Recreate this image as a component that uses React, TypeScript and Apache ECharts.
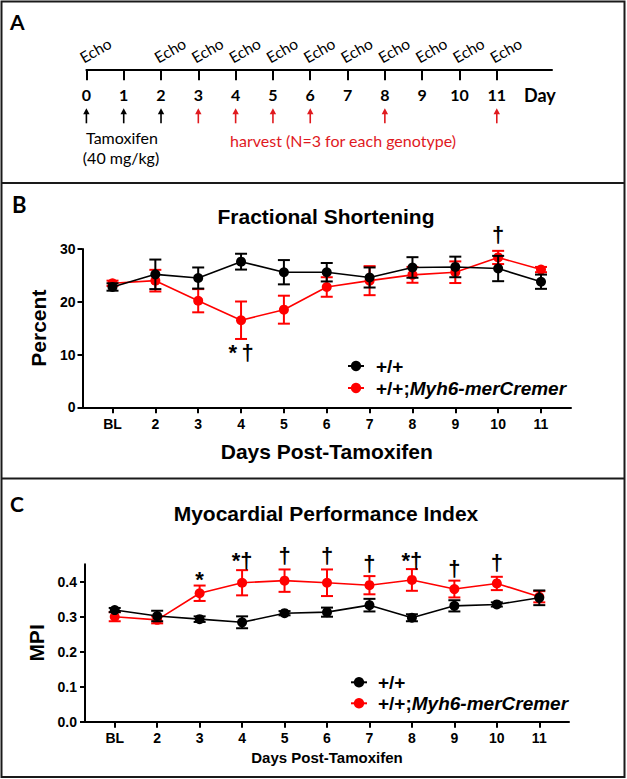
import React, { useEffect, useRef } from "react";
import * as echarts from "echarts";

// ---------- Panel A: timeline ----------
const timelineDays = [0, 1, 2, 3, 4, 5, 6, 7, 8, 9, 10, 11];
const echoDays = [0, 2, 3, 4, 5, 6, 7, 8, 9, 10, 11];
const tamoxifenDays = [0, 1, 2];
const harvestDays = [3, 4, 5, 6, 8, 11];

// ---------- Panels B & C ----------
const dayCategories = ["BL", "2", "3", "4", "5", "6", "7", "8", "9", "10", "11"];

// Fractional shortening (%), mean and SEM
const fsWT = [22.8, 25.2, 24.5, 27.6, 25.6, 25.6, 24.6, 26.5, 26.6, 26.3, 23.8];
const fsWTErr = [0.7, 2.8, 2.0, 1.5, 2.3, 1.75, 1.9, 1.95, 1.95, 2.4, 1.35];
const fsCre = [23.5, 24.0, 20.2, 16.5, 18.5, 22.8, 24.0, 25.1, 25.6, 28.4, 26.1];
const fsCreErr = [0.5, 2.05, 2.2, 3.55, 2.65, 1.85, 2.75, 1.5, 2.05, 1.25, 0.5];
const fsTicks = [0, 10, 20, 30];
const fsSigIdx = [3, 9];
const fsSigY = [10.3, 32.7];
const fsSigText = ["*\u2009\u2020", "\u2020"];

// Myocardial performance index, mean and SEM
const mpiWT = [0.319, 0.302, 0.293, 0.284, 0.31, 0.313, 0.333, 0.297, 0.331, 0.335, 0.354];
const mpiWTErr = [0.006, 0.015, 0.008, 0.017, 0.006, 0.013, 0.018, 0.01, 0.016, 0.006, 0.021];
const mpiCre = [0.3, 0.291, 0.367, 0.397, 0.403, 0.397, 0.39, 0.405, 0.379, 0.395, 0.357];
const mpiCreErr = [0.013, 0.01, 0.022, 0.036, 0.032, 0.038, 0.026, 0.031, 0.024, 0.019, 0.016];
const mpiTicks = [0, 0.1, 0.2, 0.3, 0.4];
const mpiSigIdx = [2, 3, 4, 5, 6, 7, 8, 9];
const mpiSigY = [0.405, 0.462, 0.476, 0.476, 0.451, 0.462, 0.439, 0.456];
const mpiSigText = ["*", "*\u2020", "\u2020", "\u2020", "\u2020", "*\u2020", "\u2020", "\u2020"];

const seriesNames = ["+/+", "+/+;Myh6-merCremer"];

const FONT = "'Liberation Sans', Arial, Helvetica, sans-serif";
const FONT_A = "Lato, Carlito, 'Open Sans', sans-serif";
const BLACK = "#000000";
const RED = "#ff0000";
const RED_A = "#e0191e";

const catIdx = dayCategories.map((_, i) => i);

function xCatAxis(gridIndex: number, nameSize: number, nameGap: number, labelMargin: number) {
  return {
    type: "value",
    gridIndex,
    min: -0.7,
    max: 10.7,
    position: "bottom",
    axisLine: { show: true, onZero: false, lineStyle: { color: BLACK, width: 2 } },
    axisTick: { show: true, customValues: catIdx, length: 6, lineStyle: { color: BLACK, width: 2 } },
    axisLabel: {
      show: true,
      customValues: catIdx,
      formatter: (v: number) => dayCategories[Math.round(v)] ?? "",
      margin: labelMargin,
      fontSize: 14,
      fontWeight: "bold",
      fontFamily: FONT,
      color: BLACK,
    },
    splitLine: { show: false },
    name: "Days Post-Tamoxifen",
    nameLocation: "middle",
    nameGap,
    nameTextStyle: { fontSize: nameSize, fontWeight: "bold", fontFamily: FONT, color: BLACK },
  };
}

function yValAxis(gridIndex: number, max: number, ticks: number[], name: string, nameGap: number, labelMargin: number, digits: number) {
  return {
    type: "value",
    gridIndex,
    min: 0,
    max,
    axisLine: { show: true, onZero: false, lineStyle: { color: BLACK, width: 2 } },
    axisTick: { show: true, customValues: ticks, length: 5, lineStyle: { color: BLACK, width: 2 } },
    axisLabel: {
      show: true,
      customValues: ticks,
      formatter: (v: number) => v.toFixed(digits),
      margin: labelMargin,
      fontSize: 14,
      fontWeight: "bold",
      fontFamily: FONT,
      color: BLACK,
    },
    splitLine: { show: false },
    name,
    nameLocation: "middle",
    nameRotate: 90,
    nameGap,
    nameTextStyle: { fontSize: 21, fontWeight: "bold", fontFamily: FONT, color: BLACK },
  };
}

function errorSeries(axisIndex: number, vals: number[], errs: number[], color: string, z: number) {
  return {
    type: "custom",
    xAxisIndex: axisIndex,
    yAxisIndex: axisIndex,
    z,
    silent: true,
    clip: false,
    encode: { x: 0, y: [1, 2] },
    data: vals.map((v, i) => [i, v - errs[i], v + errs[i]]),
    renderItem: (_p: any, api: any) => {
      const x = api.value(0);
      const lo = api.coord([x, api.value(1)]);
      const hi = api.coord([x, api.value(2)]);
      const hw = 6;
      const style = { stroke: color, lineWidth: 2, fill: null };
      return {
        type: "group",
        children: [
          { type: "line", shape: { x1: lo[0], y1: lo[1], x2: hi[0], y2: hi[1] }, style },
          { type: "line", shape: { x1: lo[0] - hw, y1: lo[1], x2: lo[0] + hw, y2: lo[1] }, style },
          { type: "line", shape: { x1: hi[0] - hw, y1: hi[1], x2: hi[0] + hw, y2: hi[1] }, style },
        ],
      };
    },
  };
}

function meanSeries(axisIndex: number, name: string, vals: number[], color: string, z: number) {
  return {
    type: "line",
    name,
    xAxisIndex: axisIndex,
    yAxisIndex: axisIndex,
    z,
    silent: true,
    data: vals.map((v, i) => [i, v]),
    symbol: "circle",
    symbolSize: 10,
    showSymbol: true,
    itemStyle: { color },
    lineStyle: { color, width: 1.6 },
  };
}

function sigSeries(axisIndex: number, idx: number[], ys: number[], texts: string[]) {
  return {
    type: "custom",
    xAxisIndex: axisIndex,
    yAxisIndex: axisIndex,
    z: 20,
    silent: true,
    clip: false,
    encode: { x: 0, y: 1 },
    data: idx.map((d, k) => [d, ys[k], k]),
    renderItem: (_p: any, api: any) => {
      const p = api.coord([api.value(0), api.value(1)]);
      const k = api.value(2);
      return {
        type: "text",
        x: p[0],
        y: p[1],
        style: {
          text: texts[k],
          fontSize: 22,
          fontWeight: "bold",
          fontFamily: FONT,
          fill: BLACK,
          align: "center",
          verticalAlign: "middle",
          textAlign: "center",
          textVerticalAlign: "middle",
        },
      };
    },
  };
}

function arrowSeries(days: number[], color: string) {
  return {
    type: "custom",
    xAxisIndex: 0,
    yAxisIndex: 0,
    silent: true,
    clip: false,
    encode: { x: 0, y: 1 },
    data: days.map((d) => [d, 0]),
    renderItem: (_p: any, api: any) => {
      const p = api.coord([api.value(0), 0]);
      const x = p[0];
      const tip = p[1] + 39;
      const tail = p[1] + 54;
      return {
        type: "group",
        children: [
          { type: "line", shape: { x1: x, y1: tip + 4, x2: x, y2: tail }, style: { stroke: color, lineWidth: 1.6 } },
          { type: "polygon", shape: { points: [[x, tip], [x - 3.2, tip + 6], [x + 3.2, tip + 6]] }, style: { fill: color } },
        ],
      };
    },
  };
}

function echoSeries() {
  return {
    type: "custom",
    xAxisIndex: 0,
    yAxisIndex: 0,
    silent: true,
    clip: false,
    encode: { x: 0, y: 1 },
    data: echoDays.map((d) => [d, 0]),
    renderItem: (_p: any, api: any) => {
      const p = api.coord([api.value(0), 0]);
      return {
        type: "text",
        x: p[0] + 9,
        y: p[1] - 19,
        rotation: Math.PI / 6,
        style: {
          text: "Echo",
          fontSize: 15.5,
          fontFamily: FONT_A,
          fill: BLACK,
          align: "center",
          verticalAlign: "middle",
          textAlign: "center",
          textVerticalAlign: "middle",
        },
      };
    },
  };
}

function txt(x: number, y: number, text: string, font: string, fill: string, align = "left") {
  return {
    type: "text",
    x,
    y,
    silent: true,
    z: 50,
    style: { text, font, fill, textAlign: align, textVerticalAlign: "middle", align, verticalAlign: "middle" },
  };
}

function legend(mx: number, tx: number, y1: number, y2: number) {
  const els: any[] = [];
  [[y1, BLACK], [y2, RED]].forEach(([y, c]: any) => {
    els.push({ type: "line", silent: true, z: 50, shape: { x1: mx - 8, y1: y, x2: mx + 8, y2: y }, style: { stroke: c, lineWidth: 2 } });
    els.push({ type: "circle", silent: true, z: 50, shape: { cx: mx, cy: y, r: 5.2 }, style: { fill: c } });
  });
  els.push(txt(tx, y1, seriesNames[0], `bold 19px ${FONT}`, BLACK));
  els.push({
    type: "text",
    x: tx,
    y: y2,
    silent: true,
    z: 50,
    style: {
      text: "{a|+/+;}{b|Myh6-merCremer}",
      textVerticalAlign: "middle",
      verticalAlign: "middle",
      rich: {
        a: { fontSize: 19, fontWeight: "bold", fontFamily: FONT, fill: BLACK, color: BLACK },
        b: { fontSize: 19, fontWeight: "bold", fontStyle: "italic", fontFamily: FONT, fill: BLACK, color: BLACK },
      },
    },
  });
  return els;
}

export default function App() {
  const ref = useRef<HTMLDivElement>(null);
  useEffect(() => {
    if (!ref.current) return;
    const chart = echarts.init(ref.current, null, { renderer: "svg" });
    const option: any = {
      animation: false,
      backgroundColor: "#ffffff",
      grid: [
        { left: 86.4, top: 0, width: 465.6, height: 69.3, outerBoundsMode: "none" },
        { left: 82.5, top: 249, width: 488.5, height: 158.3, outerBoundsMode: "none" },
        { left: 85, top: 564.2, width: 484, height: 157.5, outerBoundsMode: "none" },
      ],
      xAxis: [
        {
          type: "value",
          gridIndex: 0,
          min: 0,
          max: 12.48,
          position: "bottom",
          axisLine: { show: true, onZero: false, lineStyle: { color: BLACK, width: 2 } },
          axisTick: { show: true, customValues: timelineDays, length: 11, lineStyle: { color: BLACK, width: 2 } },
          axisLabel: {
            show: true,
            customValues: timelineDays,
            margin: 17,
            fontSize: 16,
            fontWeight: "bold",
            fontFamily: FONT_A,
            color: BLACK,
          },
          splitLine: { show: false },
        },
        xCatAxis(1, 21, 34, 10),
        xCatAxis(2, 15, 28, 9),
      ],
      yAxis: [
        { type: "value", gridIndex: 0, min: 0, max: 1, show: false },
        yValAxis(1, 30, fsTicks, "Percent", 31, 7, 0),
        yValAxis(2, 0.45, mpiTicks, "MPI", 35, 8, 1),
      ],
      series: [
        echoSeries(),
        arrowSeries(tamoxifenDays, BLACK),
        arrowSeries(harvestDays, RED_A),
        errorSeries(1, fsCre, fsCreErr, RED, 2),
        meanSeries(1, seriesNames[1], fsCre, RED, 3),
        errorSeries(1, fsWT, fsWTErr, BLACK, 4),
        meanSeries(1, seriesNames[0], fsWT, BLACK, 5),
        sigSeries(1, fsSigIdx, fsSigY, fsSigText),
        errorSeries(2, mpiCre, mpiCreErr, RED, 2),
        meanSeries(2, seriesNames[1], mpiCre, RED, 3),
        errorSeries(2, mpiWT, mpiWTErr, BLACK, 4),
        meanSeries(2, seriesNames[0], mpiWT, BLACK, 5),
        sigSeries(2, mpiSigIdx, mpiSigY, mpiSigText),
      ],
      graphic: [
        { type: "rect", silent: true, z: 60, shape: { x: 1.5, y: 1.5, width: 623, height: 775.5 }, style: { fill: "none", stroke: "#1a1a1a", lineWidth: 2 } },
        { type: "line", silent: true, z: 60, shape: { x1: 1.5, y1: 183, x2: 624.5, y2: 183 }, style: { stroke: "#1a1a1a", lineWidth: 2 } },
        { type: "line", silent: true, z: 60, shape: { x1: 1.5, y1: 478.5, x2: 624.5, y2: 478.5 }, style: { stroke: "#1a1a1a", lineWidth: 2 } },
        txt(10, 21, "A", `bold 21px ${FONT_A}`, BLACK),
        txt(12, 204, "B", `bold 22px ${FONT_A}`, BLACK),
        txt(10, 503, "C", `bold 21px ${FONT_A}`, BLACK),
        txt(524, 95, "Day", `bold 18px ${FONT_A}`, BLACK),
        txt(122, 137, "Tamoxifen", `16px ${FONT_A}`, BLACK, "center"),
        txt(121, 157, "(40 mg/kg)", `16px ${FONT_A}`, BLACK, "center"),
        txt(343, 140, "harvest (N=3 for each genotype)", `16px ${FONT_A}`, RED_A, "center"),
        txt(326, 216, "Fractional Shortening", `bold 21px ${FONT}`, BLACK, "center"),
        txt(326, 513, "Myocardial Performance Index", `bold 21px ${FONT}`, BLACK, "center"),
        ...legend(356, 376, 366, 388),
        ...legend(359, 378, 682.3, 703.3),
      ],
    };
    chart.setOption(option);
    return () => chart.dispose();
  }, []);
  return <div ref={ref} style={{ position: "absolute", left: 0, top: 0, width: 627, height: 779 }} />;
}
